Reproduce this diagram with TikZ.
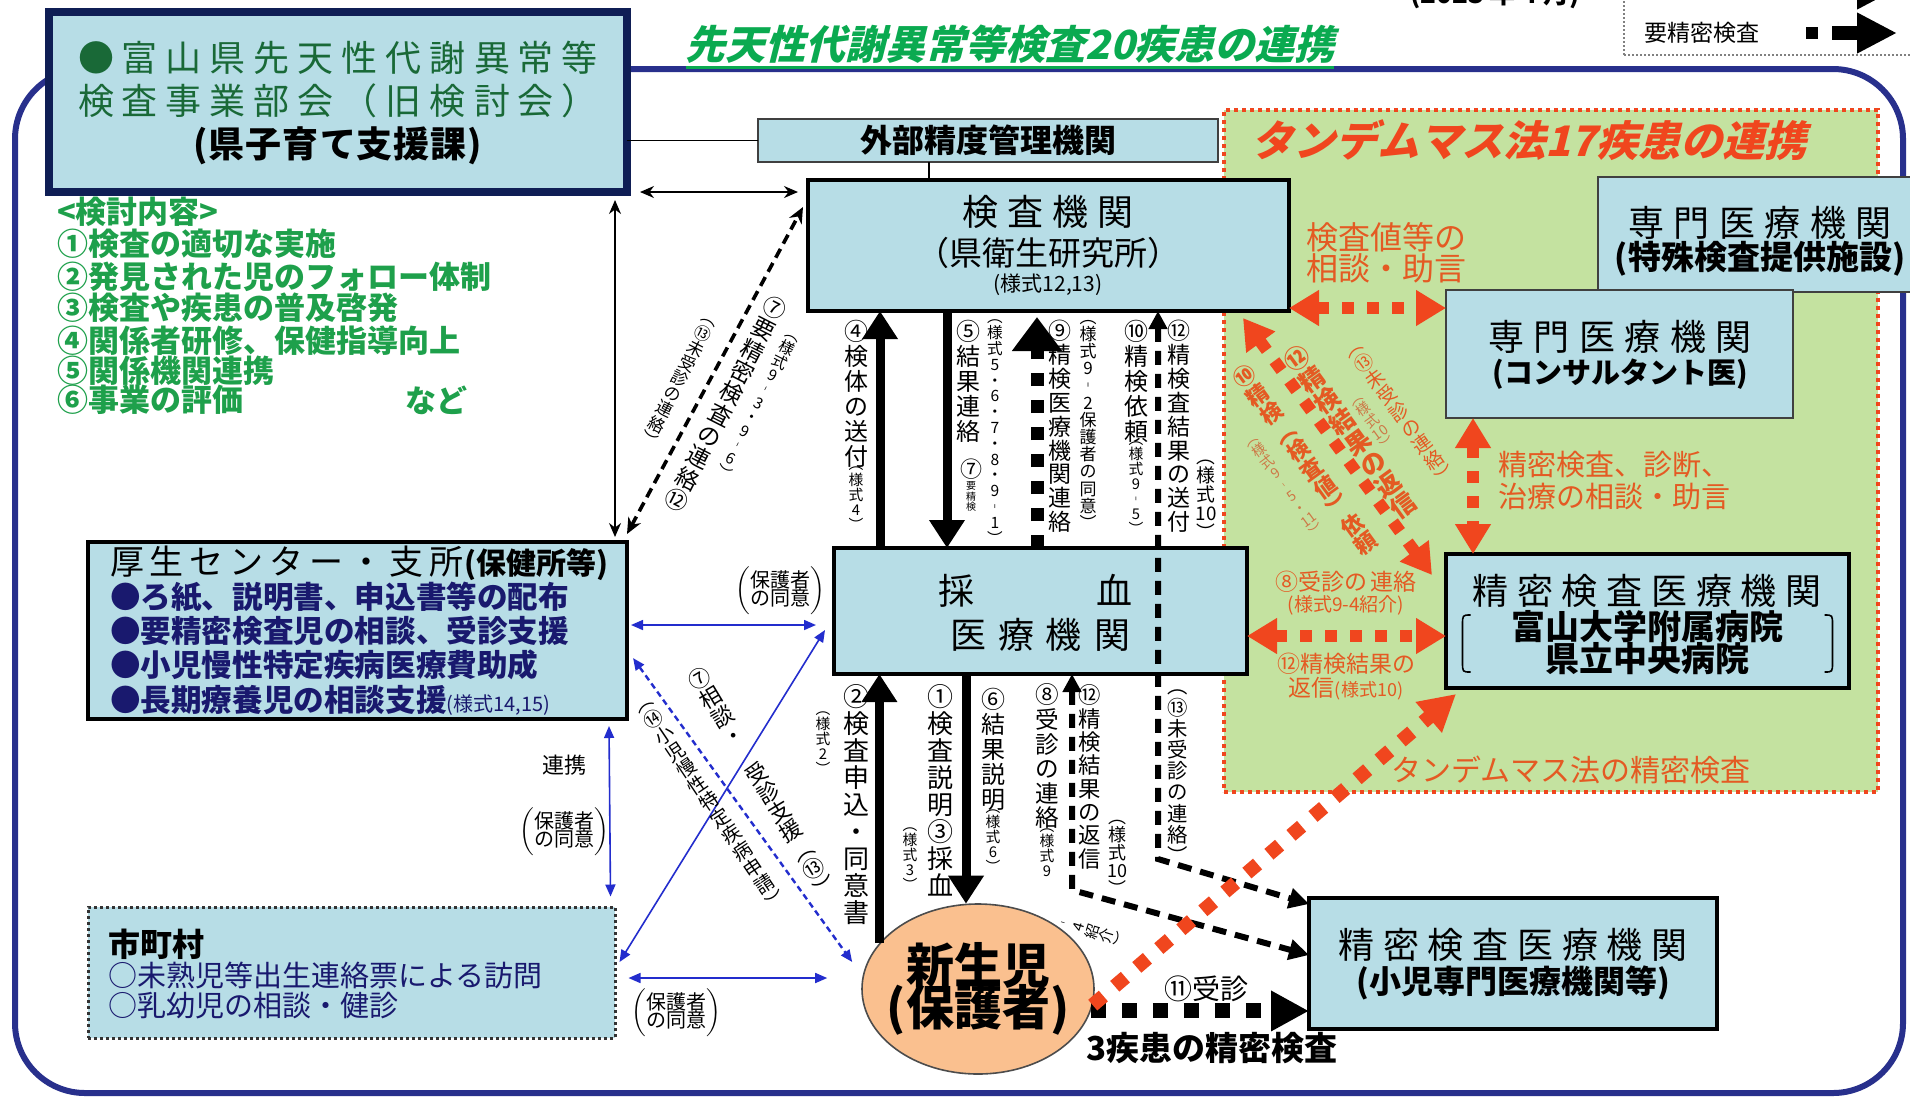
\documentclass[tikz,border=0pt]{standalone}
\usepackage{fontspec}
\setmainfont{Noto Sans CJK JP}
\newfontfamily\jpit[FakeSlant=0.25]{Noto Sans CJK JP}
\usetikzlibrary{arrows.meta,calc,shapes.geometric}
\definecolor{boxblue}{RGB}{183,221,230}
\definecolor{navyf}{RGB}{40,48,140}
\definecolor{dnavy}{RGB}{15,30,85}
\definecolor{dkgreen}{RGB}{25,105,55}
\definecolor{ltgreen}{RGB}{30,160,75}
\definecolor{ttlgreen}{RGB}{10,170,80}
\definecolor{tgreen}{RGB}{196,226,160}
\definecolor{ored}{RGB}{240,70,30}
\definecolor{otext}{RGB}{228,90,35}
\definecolor{osmall}{RGB}{205,120,70}
\definecolor{peach}{RGB}{250,192,143}
\definecolor{bblue}{RGB}{35,45,205}
\definecolor{bnavy}{RGB}{25,25,110}
\newcommand\fs[1]{\fontsize{#1}{#1}\selectfont}
\makeatletter
\def\vtstop{\vtstop}
\def\vt@stopm{\vtstop}
\def\vtloop#1{\def\vt@arg{#1}\ifx\vt@arg\vt@stopm\else\hbox to 1em{\hss#1\hss}\expandafter\vtloop\fi}
\newcommand\vtext[2][1.04em]{\vbox{\baselineskip=#1\relax\lineskiplimit=-100pt\lineskip=0pt\vtloop#2\vtstop}}
\def\trkloop#1{\def\vt@arg{#1}\ifx\vt@arg\vt@stopm\else#1\kern\trk@amt\expandafter\trkloop\fi}
\newcommand\trk[2]{\def\trk@amt{#1}\trkloop#2\vtstop\kern-#1}
\makeatother
\newcommand\pbr[2]{$\left(\vcenter{\hbox{\begin{tabular}{@{}l@{}}#1\\[-2pt]#2\end{tabular}}}\right)$}
\begin{document}
\begin{tikzpicture}[x=0.5pt,y=-0.5pt,
  lab/.style={inner sep=0pt,outer sep=0pt},
  bx/.style={draw=black,fill=boxblue,line width=2pt,inner sep=0pt,outer sep=0pt},
  bxthin/.style={draw=black!75,fill=boxblue,line width=0.9pt,inner sep=0pt,outer sep=0pt},
  vl/.style={lab,font=\fs{12}},
  vs/.style={lab,font=\fs{7.4}},
  thk/.style={line width=4.5pt,-{Triangle[length=14pt,width=17pt]}},
  sq/.style={line width=6.5pt,dash pattern=on 6.5pt off 7pt},
  dsh/.style={line width=3pt,dash pattern=on 7pt off 4.5pt},
  oarr/.style={draw=ored,line width=6pt,dash pattern=on 6pt off 6.5pt,{Triangle[length=15pt,width=17pt]}-{Triangle[length=15pt,width=17pt]}},
  barr/.style={draw=bblue,line width=0.8pt,{Triangle[length=6pt,width=5pt]}-{Triangle[length=6pt,width=5pt]}},
  tarr/.style={line width=0.8pt,{Stealth[length=7pt,width=6pt]}-{Stealth[length=7pt,width=6pt]}},
]
\useasboundingbox (0,0) rectangle (1910,1099);
\fill[white] (0,0) rectangle (1910,1099);

% legend and date
\node[draw=gray,dash pattern=on 1pt off 1pt,line width=0.8pt,minimum width=153pt,minimum height=37.5pt,inner sep=0pt] (leg) at (1777,17.5) {};
\node[lab,font=\fs{11.5}] (legt) at (1702,33) {要精密検査};
\node[fill=black,minimum size=6pt,inner sep=0pt] (legsq) at (1812,33) {};
\coordinate (legA) at (1832,33); \coordinate (legB) at (1897,33);
\draw[line width=7pt,-{Triangle[length=20pt,width=19pt]}] (legA) -- (legB);
\coordinate (legC) at (1790,-11); \coordinate (legD) at (1897,-11);
\draw[line width=7pt,-{Triangle[length=20pt,width=19pt]}] (legC) -- (legD);
\node[lab,font=\bfseries\fs{13}] (date) at (1495,-5) {(2023 年 4 月)};

% frame
\node[draw=navyf,line width=3pt,rounded corners=35pt,minimum width=944pt,minimum height=512pt,inner sep=0pt] (frame) at (959,581) {};

% title
\node[lab,text=ttlgreen,font=\jpit\bfseries\fs{20}] (title) at (1010,44) {先天性代謝異常等検査20疾患の連携};
\draw[ttlgreen,line width=1.2pt] ([yshift=-2pt]title.south west) -- ([yshift=-2pt]title.south east);

% tandem area
\node[draw=ored,line width=2pt,dash pattern=on 2pt off 2pt,fill=tgreen,minimum width=327pt,minimum height=341pt,inner sep=0pt] (tan) at (1551,451) {};
\node[lab,text=ored,font=\jpit\bfseries\fs{21}] (tantitle) at (1529,140) {タンデムマス法17疾患の連携};

% top-left box
\node[draw=dnavy,line width=4pt,fill=boxblue,minimum width=289pt,minimum height=90pt,inner sep=0pt,outer sep=0pt] (bu) at (338,102) {};
\node[lab,text=dkgreen,font=\fs{18}] (bu1) at (338,58) {\trk{4pt}{●富山県先天性代謝異常等}};
\node[lab,text=dkgreen,font=\fs{18}] (bu2) at (338,101) {\trk{4pt}{検査事業部会（旧検討会）}};
\node[lab,font=\bfseries\fs{18}] (bu3) at (338,146) {\trk{0.5pt}{(県子育て支援課)}};

% green list
\begin{scope}[every node/.style={lab,anchor=west,text=ltgreen,font=\bfseries\fs{15.5}}]
\node (g0) at (57,212) {<検討内容>};
\node (g1) at (57,244) {①検査の適切な実施};
\node (g2) at (57,277) {②発見された児のフォロー体制};
\node (g3) at (57,308) {③検査や疾患の普及啓発};
\node (g4) at (57,341) {④関係者研修、保健指導向上};
\node (g5) at (57,371) {⑤関係機関連携};
\node (g6) at (57,400) {⑥事業の評価};
\node (g7) at (405,400) {など};
\end{scope}

% boxes
\node[bxthin] (gaibu) [minimum width=230pt,minimum height=21.5pt] at (988,140.5) {};
\node[lab,font=\bfseries\fs{16}] (gaibut) at (gaibu) {外部精度管理機関};
\node[bx,minimum width=240.5pt,minimum height=65.5pt] (kensa) at (1048.5,245.5) {};
\node[lab,font=\fs{18}] (kensa1) at (1048,212) {\trk{4.5pt}{検査機関}};
\node[lab,font=\fs{16.5}] (kensa2) at (1048,253) {（県衛生研究所）};
\node[lab,font=\fs{10.5}] (kensa3) at (1048,285) {(様式12,13)};

\node[bx,minimum width=269.5pt,minimum height=88.5pt] (kosei) at (357.5,630.5) {};
\node[lab,anchor=west] (kosei0) at (110,563) {{\fs{17}\trk{3pt}{厚生センター・支所}}{\bfseries\fs{15}(保健所等)}};
\begin{scope}[every node/.style={lab,anchor=west,text=bnavy,font=\bfseries\fs{15.3}}]
\node (k1) at (110,597) {●ろ紙、説明書、申込書等の配布};
\node (k2) at (110,631) {●要精密検査児の相談、受診支援};
\node (k3) at (110,665) {●小児慢性特定疾病医療費助成};
\node (k4) at (110,700) {●長期療養児の相談支援{\mdseries\fs{10}(様式14,15)}};
\end{scope}

\node[draw=black!80,line width=1.5pt,dash pattern=on 1.5pt off 1.5pt,fill=boxblue,minimum width=263.5pt,minimum height=65.5pt,inner sep=0pt] (shi) at (351.5,972.5) {};
\node[lab,anchor=west,font=\bfseries\fs{16}] (shi0) at (108,944) {市町村};
\node[lab,anchor=west,text=bnavy,font=\fs{14.5}] (shi1) at (108,975) {○未熟児等出生連絡票による訪問};
\node[lab,anchor=west,text=bnavy,font=\fs{14.5}] (shi2) at (108,1006) {○乳幼児の相談・健診};

\node[bx,minimum width=206.5pt,minimum height=63pt] (sai) at (1040.5,611) {};
\node[lab,font=\fs{18}] (sai1) at (1035,591) {採\kern61pt血};
\node[lab,font=\fs{18}] (sai2) at (1040,635) {\trk{6pt}{医療機関}};

\node[ellipse,draw=black!70,line width=0.8pt,fill=peach,minimum width=116pt,minimum height=85pt,inner sep=0pt] (nb) at (978,989) {};
\node[lab,font=\bfseries\fs{24}] (nb1) at (978,965) {新生児};
\node[lab,font=\bfseries\fs{24}] (nb2) at (978,1010) {(保護者)};

\node[bx,minimum width=204pt,minimum height=65.5pt] (sm2) at (1513,963.5) {};
\node[lab,font=\fs{18}] (sm2a) at (1513,945) {\trk{4.4pt}{精密検査医療機関}};
\node[lab,font=\bfseries\fs{16}] (sm2b) at (1513,983) {(小児専門医療機関等)};

\node[bx,minimum width=201.5pt,minimum height=67pt] (sm1) at (1647.5,621) {};
\node[lab,font=\fs{18}] (sm1a) at (1647,591) {\trk{4.4pt}{精密検査医療機関}};
\node[lab,font=\bfseries\fs{17}] (sm1b) at (1647,626) {富山大学附属病院};
\node[lab,font=\bfseries\fs{17}] (sm1c) at (1647,659) {県立中央病院};
\begin{scope}[shift={(sm1.center)}]
\draw[line width=0.8pt] (-177,-6) .. controls (-185,-6) .. (-185,4) -- (-185,41) .. controls (-185,51) .. (-177,51);
\draw[line width=0.8pt] (177,-6) .. controls (185,-6) .. (185,4) -- (185,41) .. controls (185,51) .. (177,51);
\end{scope}

\node[bxthin,minimum width=158.5pt,minimum height=57.5pt] (tok) at (1756.5,234.5) {};
\node[lab,font=\fs{18}] (tok1) at (1760,223) {\trk{4.7pt}{専門医療機関}};
\node[lab,font=\bfseries\fs{16.5}] (tok2) at (1760,259) {(特殊検査提供施設)};
\node[bxthin,minimum width=173.5pt,minimum height=64pt] (con) at (1619.5,354) {};
\node[lab,font=\fs{18}] (con1) at (1620,337) {\trk{4.7pt}{専門医療機関}};
\node[lab,font=\bfseries\fs{14.5}] (con2) at (1620,374) {(コンサルタント医)};

% orange labels
\node[lab,anchor=west,text=otext,font=\fs{16}] (ot1) at (1306,237) {検査値等の};
\node[lab,anchor=west,text=otext,font=\fs{16}] (ot2) at (1306,268) {相談・助言};
\node[lab,anchor=west,text=otext,font=\fs{14.5}] (ot3) at (1498,465) {精密検査、診断、};
\node[lab,anchor=west,text=otext,font=\fs{14.5}] (ot4) at (1498,496) {治療の相談・助言};
\node[lab,text=otext,font=\fs{11.5}] (ot5) at (1346,582) {⑧受診の\,連絡};
\node[lab,text=otext,font=\fs{9.5}] (ot6) at (1346,605) {(様式9-4紹介)};
\node[lab,text=otext,font=\fs{11.5}] (ot7) at (1346,664) {⑫精検結果の};
\node[lab,text=otext,font=\fs{11.5}] (ot8) at (1346,689) {返信{\fs{9}(様式10)}};
\node[lab,text=otext,font=\fs{15}] (ot9) at (1571,770) {タンデムマス法の精密検査};

% thin black connectors
\draw[line width=0.8pt] (gaibu.west) -- (gaibu.west -| bu.east);
\coordinate (gx) at ($(gaibu.south west)+(171,0)$);
\draw[line width=0.8pt] (gx) -- (gx |- kensa.north);
\coordinate (a1) at ($(bu.south east)+(13,0)$);
\coordinate (a2) at ($(kensa.west |- bu.south east)+(-10,0)$);
\draw[tarr] (a1) -- (a2);
\coordinate (a3) at ($(bu.south east)+(-12,8)$);
\coordinate (a4) at ($(kosei.north east)+(-12,-5)$);
\draw[tarr] (a3) -- (a4);
\coordinate (a5) at ($(kosei.north east)+(0,-8)$);
\coordinate (a6) at ($(kensa.north west)+(-5,27)$);
\draw[line width=1.8pt,dash pattern=on 5pt off 3pt,{Stealth[length=8pt,width=7pt]}-{Stealth[length=8pt,width=7pt]}] (a5) -- (a6);

% thick black arrows
\draw[thk] (sai.north -| 880,0) -- (kensa.south -| 880,0);
\draw[thk] (kensa.south -| 947,0) -- (sai.north -| 947,0);
\draw[sq,-{Triangle[length=17pt,width=24pt]}] (sai.north -| 1037,0) -- ($(kensa.south -| 1037,0)+(0,6)$);
\coordinate (k13) at (1158,859);
\draw[dsh,{Triangle[length=9pt,width=9pt]}-{Triangle[length=10pt,width=10pt]}] (kensa.south -| k13) -- (k13) -- (sm2.west |- 0,904);
\draw[thk] (nb.155) -- (sai.south -| nb.155);
\draw[thk] (sai.south -| nb.98) -- (nb.98);
\coordinate (k8) at (1072,890);
\draw[dsh,{Triangle[length=9pt,width=9pt]}-{Triangle[length=10pt,width=10pt]}] (sai.south -| k8) -- (k8) -- (sm2.west |- 0,955);
\draw[line width=7.5pt,dash pattern=on 7.5pt off 8pt,-{Triangle[length=19pt,width=19pt]}] (nb.349) -- (sm2.west |- nb.349);

% orange arrows
\draw[oarr] (kensa.east |- 0,308) -- (con.west |- 0,308);
\draw[oarr] (con.south -| 1473,0) -- (sm1.north -| 1473,0);
\coordinate (o1a) at ($(kensa.south east)+(-46,7)$);
\coordinate (o1b) at ($(sm1.north west)+(-14,21)$);
\draw[oarr] (o1a) -- (o1b);
\draw[oarr] (sai.east |- 0,636) -- (sm1.west |- 0,636);
\coordinate (o2b) at ($(sm1.south west)+(10,6)$);
\draw[draw=ored,line width=7pt,dash pattern=on 7pt off 7.5pt,-{Triangle[length=18pt,width=19pt]}] (nb.352) -- (o2b);

% blue arrows
\coordinate (b1) at ($(kosei.east |- 0,625)+(4,0)$);
\coordinate (b2) at ($(sai.west |- 0,625)+(-18,0)$);
\draw[barr] (b1) -- (b2);
\coordinate (b3) at ($(shi.east |- 0,978)+(12,0)$);
\coordinate (b4) at ($(nb.west |- 0,978)+(-34,0)$);
\draw[barr] (b3) -- (b4);
\coordinate (b5) at ($(kosei.south east)+(-18,7)$);
\coordinate (b6) at ($(shi.north east)+(-6,-9)$);
\draw[barr] (b5) -- (b6);
\coordinate (b7) at ($(shi.east |- 0,962)+(3,0)$);
\coordinate (b8) at ($(sai.west |- 0,630)+(-9,0)$);
\draw[barr] (b7) -- (b8);
\coordinate (b9) at ($(kosei.east |- 0,658)+(6,0)$);
\coordinate (b10) at ($(nb.west)+(-9,-27)$);
\draw[barr,line width=1.2pt,dash pattern=on 3pt off 2pt] (b9) -- (b10);

% blue labels
\node[lab,font=\fs{10}] (p1) at (780,591) {\pbr{保護者}{の同意}};
\node[lab,font=\fs{11}] (p0) at (564,765) {連携};
\node[lab,font=\fs{10}] (p2) at (564,832) {\pbr{保護者}{の同意}};
\node[lab,font=\fs{10}] (p3) at (676,1013) {\pbr{保護者}{の同意}};

% bottom labels
\node[lab,font=\fs{14}] (u11) at (1206,989) {⑪受診};
\node[lab,font=\bfseries\fs{16.5}] (u3) at (1212,1048) {3疾患の精密検査};

% vertical labels upper
\node[vl,anchor=north] (l4a) at (856,320) {\vtext{④検体の送付}};
\node[vs,anchor=north] (l4b) at (l4a.south) {\vtext[7.6pt]{︵様式4︶}};
\node[vl,anchor=north] (l5a) at (968,320) {\vtext{⑤結果連絡}};
\node[vs,font=\fs{7.8},anchor=north] (l5b) at (995,320) {\vtext[7.9pt]{︵様式5・6・7・8・9︲1︶}};
\node[lab,font=\fs{11}] (l7) at (971,469) {⑦};
\node[lab,font=\fs{5},anchor=north] (l7b) at (971,482) {\vtext{要精検}};
\node[vl,font=\fs{11.5},anchor=north] (l9a) at (1060,320) {\vtext{⑨精検医療機関連絡}};
\node[vs,font=\fs{8.5},anchor=north] (l9b) at (1088,320) {\vtext[8.6pt]{︵様式9︲2保護者の同意︶}};
\node[vl,anchor=north] (l10a) at (1136,320) {\vtext{⑩精検依頼}};
\node[vs,anchor=north] (l10b) at (l10a.south) {\vtext[7.5pt]{︵様式9︲5︶}};
\node[vl,font=\fs{11.5},anchor=north] (l12a) at (1179,320) {\vtext{⑫精検査結果の送付}};
\node[vs,font=\fs{9.4},anchor=north] (l12b) at (1206,460) {\vtext[9.5pt]{︵様式{10}︶}};

% vertical labels lower
\node[vl,font=\fs{13},anchor=north] (l2a) at (856,684) {\vtext{②検査申込・同意書}};
\node[vs,anchor=north] (l2b) at (823,712) {\vtext[7.5pt]{︵様式2︶}};
\node[vl,font=\fs{13},anchor=north] (l1a) at (940,684) {\vtext{①検査説明③採血}};
\node[vs,anchor=north] (l3b) at (910,828) {\vtext[7.5pt]{︵様式3︶}};
\node[vl,anchor=north] (l6a) at (993,688) {\vtext{⑥結果説明}};
\node[vs,anchor=north] (l6b) at (l6a.south) {\vtext[7.5pt]{︵様式6︶}};
\node[vl,font=\fs{11.8},anchor=north] (l8a) at (1047,684) {\vtext{⑧受診の連絡}};
\node[vs,anchor=north] (l8b) at (l8a.south) {\vtext[7.5pt]{︵様式9}};
\node[vs,rotate=73] (l8c) at (1094,932) {\vtext[7.5pt]{︲4紹介︶}};
\node[vl,font=\fs{11.2},anchor=north] (l12c) at (1090,685) {\vtext{⑫精検結果の返信}};
\node[vs,font=\fs{9},anchor=north] (l12d) at (1117,820) {\vtext[9pt]{︵様式{10}︶}};
\node[vs,font=\fs{10.2},anchor=north] (l13) at (1178,690) {\vtext{︵⑬未受診の連絡︶}};

% diagonal labels
\node[lab,font=\fs{11.5},rotate=-27] (d1) at (726,404) {\vtext{⑦要精密検査の連絡⑫}};
\node[lab,font=\fs{7.7},rotate=-27] (d2) at (757,407) {\vtext[7.8pt]{︵様式9︲3・9︲6︶}};
\node[lab,font=\fs{8.4},rotate=-27] (d3) at (678,383) {\vtext[8.5pt]{︵⑬未受診の連絡︶}};
\node[lab,font=\fs{11},rotate=31] (d4) at (762,782) {\vtext[11.1pt]{⑦相談・　受診支援︵⑬︶}};
\node[lab,font=\fs{9.6},rotate=34] (d5) at (712,806) {\vtext{︵⑭小児慢性特定疾病申請︶}};
\node[lab,font=\bfseries\fs{12.5},text=otext,rotate=36] (o1) at (1350,432) {\vtext[13pt]{⑫精検結果の返信}};
\node[lab,font=\fs{7},text=osmall,rotate=36] (o2) at (1374,424) {\vtext[7.1pt]{︵様式{10}︶}};
\node[lab,font=\bfseries\fs{11},text=otext,rotate=36] (o3) at (1305,460) {\vtext{⑩精検︵検査値︶依頼}};
\node[lab,font=\fs{7},text=osmall,rotate=36] (o4) at (1286,488) {\vtext[7.1pt]{︵様式9︲5・{11}︶}};
\node[lab,font=\fs{9.6},text=otext,rotate=36] (o5) at (1402,416) {\vtext{︵⑬未受診の連絡︶}};
\end{tikzpicture}
\end{document}
